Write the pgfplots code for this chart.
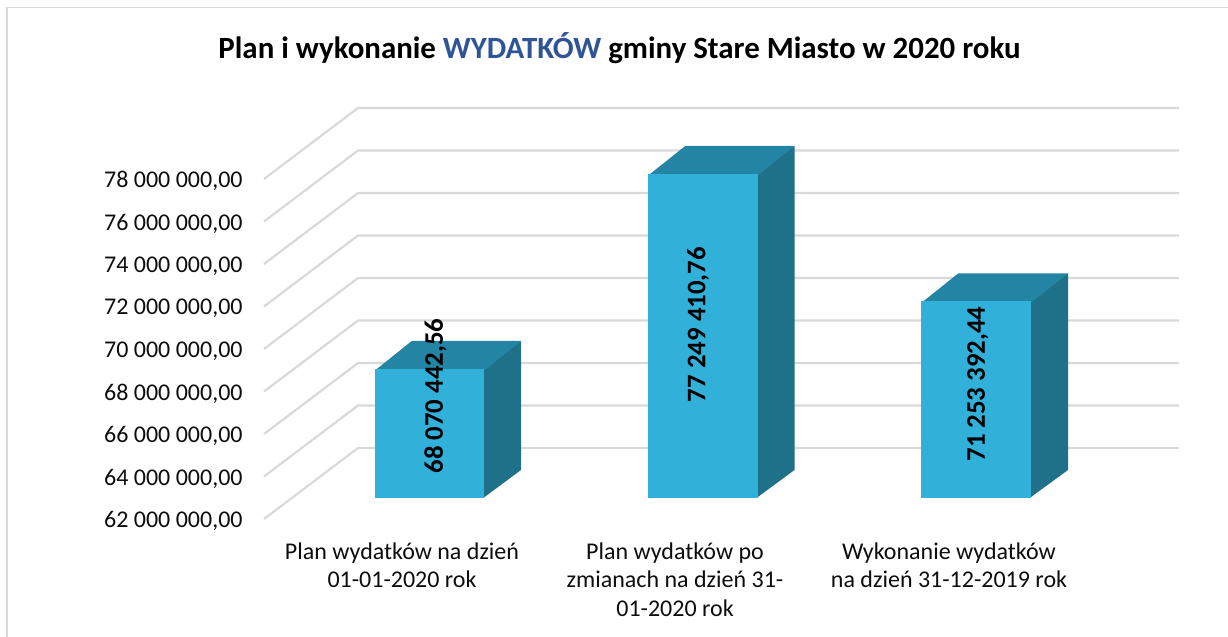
\documentclass[border=0pt]{standalone}
\usepackage{pgfplots}
\pgfplotsset{compat=1.18}
\usepackage{fontspec}
\setmainfont{Carlito}
\definecolor{gridc}{HTML}{D9D9D9}
\definecolor{front}{HTML}{31B0DA}
\definecolor{topc}{HTML}{2484A4}
\definecolor{sidec}{HTML}{1F7089}
\definecolor{wyd}{HTML}{2F5597}
\definecolor{txt}{HTML}{0D0D0D}
\begin{document}
\begin{tikzpicture}[x=1pt,y=1pt]
\path[use as bounding box] (0,0) rectangle (614,318.5);
\draw[gridc,line width=0.9pt] (3.6,0) -- (3.6,314.7) -- (614,314.7);
\begin{axis}[
  at={(132pt,59pt)},anchor=south west,
  scale only axis,width=457.5pt,height=205.5pt,
  xmin=264,xmax=1179,ymin=62,ymax=81.34,
  axis line style={draw=none},clip=false,
  tick style={draw=none},
  ytick={62,64,66,68,70,72,74,76,78},
  yticklabels={{62 000 000,00},{64 000 000,00},{66 000 000,00},{68 000 000,00},{70 000 000,00},{72 000 000,00},{74 000 000,00},{76 000 000,00},{78 000 000,00}},
  yticklabel style={font=\fontsize{12}{14}\selectfont,text=txt,inner sep=0pt,xshift=-10.5pt,yshift=-1pt},
  ytick pos=left,
  xtick={402,675,949},
  xticklabels={{Plan wydatków na dzień\\01-01-2020 rok},{Plan wydatków po\\zmianach na dzień 31-\\01-2020 rok},{Wykonanie wydatków\\na dzień 31-12-2019 rok}},
  xticklabel style={font=\fontsize{12}{14.4}\selectfont,text=txt,align=center,inner sep=0pt,yshift=-11.5pt},
  xtick pos=bottom,
]
\addplot[gridc,line width=1.1pt,no marks] coordinates {(264,62)(358,65.34)(1179,65.34)};
\addplot[gridc,line width=1.1pt,no marks] coordinates {(264,64)(358,67.34)(1179,67.34)};
\addplot[gridc,line width=1.1pt,no marks] coordinates {(264,66)(358,69.34)(1179,69.34)};
\addplot[gridc,line width=1.1pt,no marks] coordinates {(264,68)(358,71.34)(1179,71.34)};
\addplot[gridc,line width=1.1pt,no marks] coordinates {(264,70)(358,73.34)(1179,73.34)};
\addplot[gridc,line width=1.1pt,no marks] coordinates {(264,72)(358,75.34)(1179,75.34)};
\addplot[gridc,line width=1.1pt,no marks] coordinates {(264,74)(358,77.34)(1179,77.34)};
\addplot[gridc,line width=1.1pt,no marks] coordinates {(264,76)(358,79.34)(1179,79.34)};
\addplot[gridc,line width=1.1pt,no marks] coordinates {(264,78)(358,81.34)(1179,81.34)};
\node[font=\bfseries\fontsize{15.45}{17}\selectfont,text=black] at (axis cs:619.5,84.16)
  {Plan i wykonanie \textcolor{wyd}{WYDATKÓW} gminy Stare Miasto w 2020 roku};
\end{axis}
\begin{axis}[
  at={(132pt,59pt)},anchor=south west,
  scale only axis,width=457.5pt,height=205.5pt,
  xmin=264,xmax=1179,ymin=61.0118,ymax=80.353,
  hide axis,clip=false,
]
% bar 1
\addplot[fill=sidec,draw=none,no marks] coordinates {(483.3,62)(521,63.318)(521,69.388)(483.3,68.07044256)} -- cycle;
\addplot[fill=topc,draw=none,no marks] coordinates {(375,68.0)(484.3,68.0)(521,69.388)(411.7,69.388)} -- cycle;
\addplot[fill=front,draw=none,no marks] coordinates {(375,62)(484.3,62)(484.3,68.07044256)(375,68.07044256)} -- cycle;
% bar 2
\addplot[fill=sidec,draw=none,no marks] coordinates {(756.5,62)(794.5,63.318)(794.5,78.567)(756.5,77.24941076)} -- cycle;
\addplot[fill=topc,draw=none,no marks] coordinates {(648.3,77.18)(757.5,77.18)(794.5,78.567)(685.3,78.567)} -- cycle;
\addplot[fill=front,draw=none,no marks] coordinates {(648.3,62)(757.5,62)(757.5,77.24941076)(648.3,77.24941076)} -- cycle;
% bar 3
\addplot[fill=sidec,draw=none,no marks] coordinates {(1029.7,62)(1068,63.318)(1068,72.571)(1029.7,71.25339244)} -- cycle;
\addplot[fill=topc,draw=none,no marks] coordinates {(921.3,71.18)(1030.7,71.18)(1068,72.571)(958.3,72.571)} -- cycle;
\addplot[fill=front,draw=none,no marks] coordinates {(921.3,62)(1030.7,62)(1030.7,71.25339244)(921.3,71.25339244)} -- cycle;
\node[rotate=90,font=\bfseries\fontsize{13.4}{15}\selectfont,text=black] at (axis cs:435.5,66.8) {68 070 442,56};
\node[rotate=90,font=\bfseries\fontsize{13.4}{15}\selectfont,text=black] at (axis cs:698,70.16) {77 249 410,76};
\node[rotate=90,font=\bfseries\fontsize{13.4}{15}\selectfont,text=black] at (axis cs:978,67.36) {71 253 392,44};
\end{axis}
\end{tikzpicture}
\end{document}
